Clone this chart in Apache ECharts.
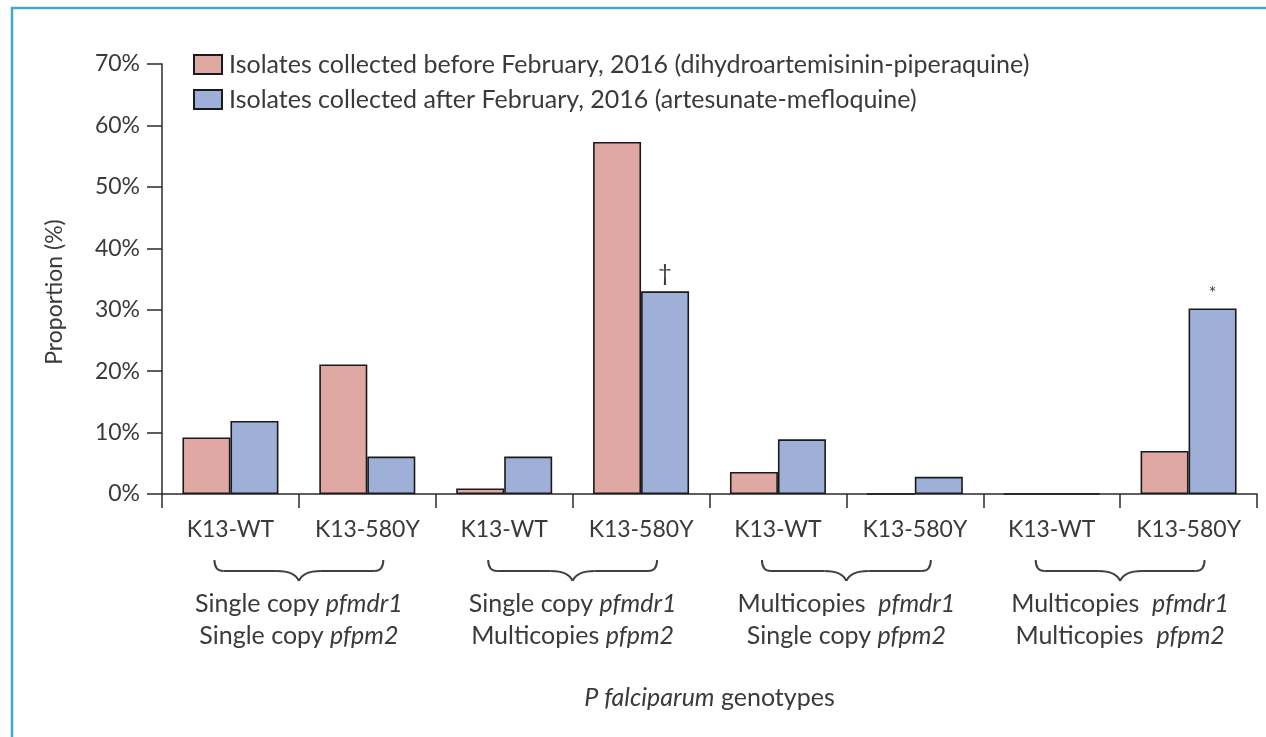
<!DOCTYPE html>
<html>
<head>
<meta charset="utf-8">
<script src="https://cdn.jsdelivr.net/npm/echarts@6/dist/echarts.min.js"></script>
<style>
  html, body { margin: 0; padding: 0; background: #fff; }
  #chart { width: 1266px; height: 737px; }
</style>
</head>
<body>
<div id="chart"></div>
<script>
// genotype categories along the x axis
var categories = ['K13-WT', 'K13-580Y', 'K13-WT', 'K13-580Y', 'K13-WT', 'K13-580Y', 'K13-WT', 'K13-580Y'];
// proportions (%)
var beforeValues = [9.2, 21.1, 0.9, 57.3, 3.6, 0, 0, 7.0];
var afterValues = [11.9, 6.1, 6.1, 33.0, 8.9, 2.8, 0, 30.2];
// significance marks drawn above the "after" bars
var afterMarks = ['', '', '', '\u2020', '', '', '', '*'];
// pfmdr1 / pfpm2 copy-number groups (each covers two categories)
var groupMdr1 = ['Single copy ', 'Single copy ', 'Multicopies  ', 'Multicopies  '];
var groupPm2 = ['Single copy ', 'Multicopies ', 'Single copy ', 'Multicopies  '];
var yTicks = [0, 10, 20, 30, 40, 50, 60, 70];

var seriesNames = [
  'Isolates collected before February, 2016 (dihydroartemisinin-piperaquine)',
  'Isolates collected after February, 2016 (artesunate-mefloquine)'
];

var FONT = 'Lato';
var TXT = '#3a3a3a';
var LINE = '#2a2a2a';

var chart = echarts.init(document.getElementById('chart'), null, { renderer: 'canvas' });

var groupRich = {
  n: { fontFamily: FONT, fontSize: 25, color: TXT, lineHeight: 32 },
  i: { fontFamily: FONT, fontSize: 25, color: TXT, fontStyle: 'italic', lineHeight: 32 }
};
var titleRich = {
  n: { fontFamily: FONT, fontSize: 25, color: TXT },
  i: { fontFamily: FONT, fontSize: 25, color: TXT, fontStyle: 'italic' }
};

var option = {
  backgroundColor: '#fff',
  animation: false,
  grid: { left: 162, right: 9, top: 64, bottom: 243, containLabel: false },
  legend: {
    left: 188, top: 47,
    orient: 'vertical',
    itemWidth: 28, itemHeight: 19, itemGap: 10,
    icon: 'rect',
    textStyle: { fontFamily: FONT, fontSize: 25, color: TXT, padding: [0, 0, 0, 2] },
    data: seriesNames
  },
  xAxis: [{
    type: 'category',
    data: categories,
    axisLine: { lineStyle: { color: LINE, width: 1.5 } },
    axisTick: { show: true, length: 14, interval: 0, lineStyle: { color: LINE, width: 1.5 } },
    axisLabel: { interval: 0, margin: 24, fontFamily: FONT, fontSize: 23, color: TXT }
  }, {
    type: 'category',
    position: 'bottom',
    data: groupMdr1.map(function (s, i) { return i; }),
    axisLine: { show: false },
    axisTick: { show: false },
    axisLabel: {
      interval: 0, margin: 94,
      formatter: function (v, i) {
        return '{n|' + groupMdr1[i] + '}{i|pfmdr1}\n{n|' + groupPm2[i] + '}{i|pfpm2}';
      },
      rich: groupRich
    },
    name: '{i|P falciparum}{n| genotypes}',
    nameLocation: 'middle',
    nameGap: 191,
    nameTextStyle: { rich: titleRich }
  }],
  yAxis: {
    type: 'value',
    min: 0, max: 70, interval: 10,
    name: 'Proportion (%)',
    nameLocation: 'middle',
    nameGap: 96,
    nameTextStyle: { fontFamily: FONT, fontSize: 23, color: TXT, padding: [0, 26, 0, 0] },
    axisLine: { show: true, lineStyle: { color: LINE, width: 1.5 } },
    axisTick: { show: true, length: 15, lineStyle: { color: LINE, width: 1.5 } },
    axisLabel: { margin: 22, fontFamily: FONT, fontSize: 23, color: TXT, formatter: '{value}%' },
    splitLine: { show: false }
  },
  series: [{
    name: seriesNames[0],
    type: 'bar',
    barWidth: 48,
    barGap: '0%',
    itemStyle: { color: '#e0a8a3', borderColor: '#1a1a1a', borderWidth: 1.6 },
    data: beforeValues
  }, {
    name: seriesNames[1],
    type: 'bar',
    barWidth: 48,
    itemStyle: { color: '#9fb0d8', borderColor: '#1a1a1a', borderWidth: 1.6 },
    data: afterValues.map(function (v, i) {
      return afterMarks[i] ? {
        value: v,
        label: { show: true, position: 'top', distance: 6, formatter: afterMarks[i],
                 fontFamily: FONT, fontSize: afterMarks[i] === '*' ? 18 : 24, color: TXT }
      } : v;
    })
  }]
};

chart.setOption(option);

// curly braces under each pair of categories + light blue frame
function braces() {
  var y0 = chart.convertToPixel({ yAxisIndex: 0 }, 0);
  var els = [];
  var st = { fill: null, stroke: '#404040', lineWidth: 2 };
  for (var g = 0; g < groupMdr1.length; g++) {
    var xa = chart.convertToPixel({ xAxisIndex: 0 }, 2 * g) - 16;
    var xb = chart.convertToPixel({ xAxisIndex: 0 }, 2 * g + 1) + 16;
    var xm = (xa + xb) / 2;
    var t = y0 + 66, m = y0 + 77, b = y0 + 87, r = 9, rm = 22;
    els.push(
      { type: 'bezierCurve', shape: { x1: xa, y1: t, cpx1: xa, cpy1: m, x2: xa + r, y2: m }, style: st },
      { type: 'line', shape: { x1: xa + r, y1: m, x2: xm - rm, y2: m }, style: st },
      { type: 'bezierCurve', shape: { x1: xm - rm, y1: m, cpx1: xm - 4, cpy1: m, x2: xm, y2: b }, style: st },
      { type: 'bezierCurve', shape: { x1: xm, y1: b, cpx1: xm + 4, cpy1: m, x2: xm + rm, y2: m }, style: st },
      { type: 'line', shape: { x1: xm + rm, y1: m, x2: xb - r, y2: m }, style: st },
      { type: 'bezierCurve', shape: { x1: xb - r, y1: m, cpx1: xb, cpy1: m, x2: xb, y2: t }, style: st }
    );
  }
  els.push({ type: 'polyline', shape: { points: [[12, 737], [12, 8], [1266, 8]] },
             style: { fill: null, stroke: '#3fa9c6', lineWidth: 2.5 } });
  chart.setOption({ graphic: els });
}
braces();
</script>
</body>
</html>
